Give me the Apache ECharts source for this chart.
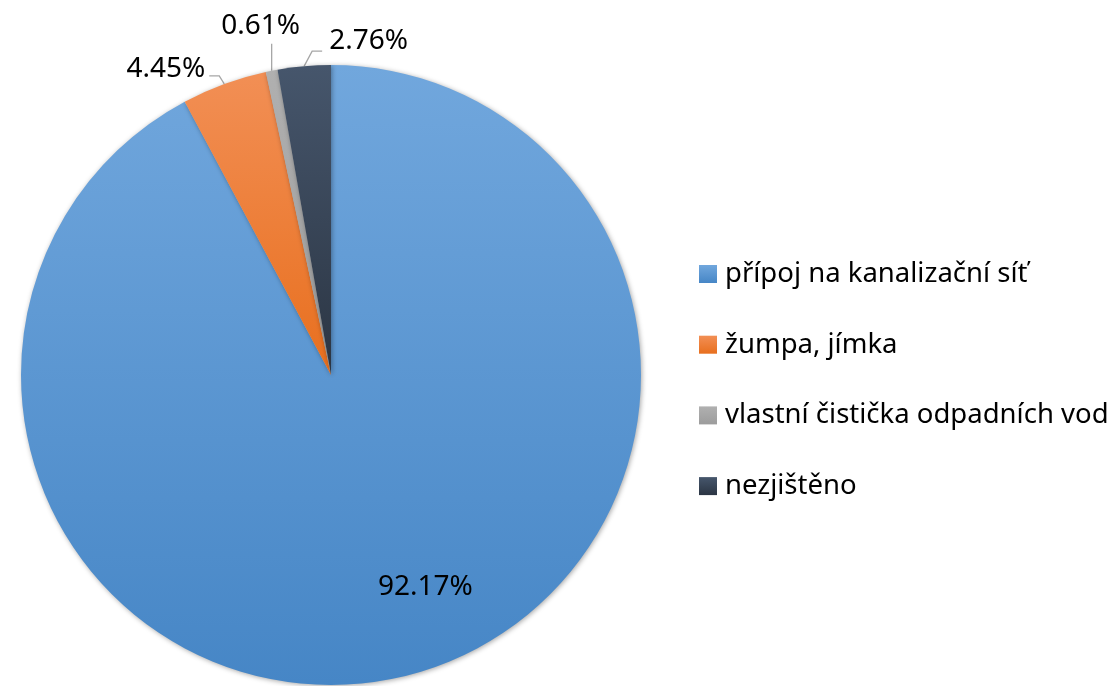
<!DOCTYPE html>
<html>
<head>
<meta charset="utf-8">
<script src="https://cdn.jsdelivr.net/npm/echarts@6/dist/echarts.min.js"></script>
<style>
html,body{margin:0;padding:0;background:#fff;}
#c{width:1116px;height:686px;}
</style>
</head>
<body>
<div id="c"></div>
<script>
const categories = ['přípoj na kanalizační síť', 'žumpa, jímka', 'vlastní čistička odpadních vod', 'nezjištěno'];
const values = [92.17, 4.45, 0.61, 2.76];
const labels = ['92.17%', '4.45%', '0.61%', '2.76%'];

const gradients = [
  ['#71a7dd', '#4686c6'],
  ['#f28f55', '#e86f1e'],
  ['#b0b0b0', '#9c9c9c'],
  ['#46566c', '#2b3543']
];
function grad(c){
  return new echarts.graphic.LinearGradient(0, 0, 0, 1, [
    {offset: 0, color: c[0]}, {offset: 1, color: c[1]}
  ]);
}

const chart = echarts.init(document.getElementById('c'), null, {renderer: 'canvas'});
const FONT = 'Noto Sans';

chart.setOption({
  animation: false,
  backgroundColor: '#ffffff',
  legend: {
    orient: 'vertical',
    left: 699,
    top: 259,
    padding: 0,
    itemWidth: 18,
    itemHeight: 18,
    itemGap: 40.7,
    icon: 'rect',
    data: categories,
    textStyle: {fontFamily: FONT, fontSize: 27.5, color: '#000', lineHeight: 30, padding: [0, 0, 0, 3]}
  },
  series: [{
    type: 'pie',
    center: [331, 375],
    radius: 310,
    startAngle: 90,
    clockwise: true,
    avoidLabelOverlap: false,
    itemStyle: {
      borderWidth: 0,
      shadowBlur: 5,
      shadowColor: 'rgba(0,0,0,0.35)',
      shadowOffsetX: 1,
      shadowOffsetY: 1
    },
    label: {
      show: true,
      position: 'outside',
      fontFamily: FONT,
      fontSize: 28,
      color: '#000',
      formatter: p => labels[p.dataIndex]
    },
    labelLine: {
      show: true,
      length: 10,
      length2: 10,
      lineStyle: {color: '#a6a6a6', width: 1.3}
    },
    labelLayout: function (params) {
      const i = params.dataIndex;
      if (i === 0) return {dx: 56, dy: 59};
      const p0 = params.labelLinePoints ? params.labelLinePoints[0] : null;
      if (!p0) return {};
      const x = p0[0], y = p0[1];
      if (i === 1) {
        return {x: x - 19, y: y - 15, align: 'right', verticalAlign: 'middle',
          labelLinePoints: [[x, y], [x - 5, y - 8], [x - 15, y - 8]]};
      }
      if (i === 2) {
        return {x: x - 11, y: y - 45, align: 'center', verticalAlign: 'middle',
          labelLinePoints: [[x, y], [x, y - 14], [x, y - 27]]};
      }
      return {x: x + 25, y: y - 25, align: 'left', verticalAlign: 'middle',
        labelLinePoints: [[x, y], [x + 8, y - 15], [x + 18, y - 15]]};
    },
    data: categories.map((n, i) => ({
      name: n,
      value: values[i],
      itemStyle: {color: grad(gradients[i])},
      label: i === 0 ? {position: 'inside'} : {},
      labelLine: i === 0 ? {show: false} : {}
    }))
  }]
});
</script>
</body>
</html>
